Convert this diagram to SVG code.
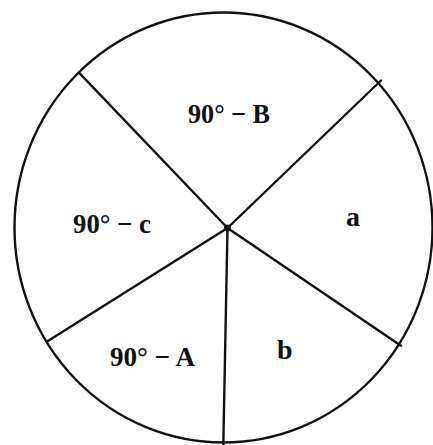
<svg xmlns="http://www.w3.org/2000/svg" width="433" height="445" viewBox="0 0 433 445">
<style>
.ln{stroke:#111;stroke-width:2.4;fill:none;stroke-linecap:round}
.lbl{font-family:"Liberation Serif","Times New Roman",serif;font-weight:bold;font-size:28px;fill:#111}
</style>
<rect width="433" height="445" fill="#fff"/>
<g id="circle"><ellipse class="ln" cx="223.5" cy="227.5" rx="209" ry="215" stroke-width="2.2"/></g>
<g id="connectors">
<line class="ln" x1="227.5" y1="228" x2="79" y2="72.7"/>
<line class="ln" x1="227.5" y1="228" x2="381" y2="80.5"/>
<line class="ln" x1="227.5" y1="228" x2="401" y2="345.7"/>
<line class="ln" x1="227.5" y1="228" x2="223.3" y2="445"/>
<line class="ln" x1="227.5" y1="228" x2="46.7" y2="341.7"/>
<circle cx="227.5" cy="228" r="3.5" fill="#111"/>
</g>
<g id="label-B"><text class="lbl" x="188" y="123" textLength="82" lengthAdjust="spacingAndGlyphs">90° − B</text></g>
<g id="label-c"><text class="lbl" x="73" y="233" textLength="78" lengthAdjust="spacingAndGlyphs">90° − c</text></g>
<g id="label-a"><text class="lbl" x="346" y="226">a</text></g>
<g id="label-A"><text class="lbl" x="110" y="366" textLength="85" lengthAdjust="spacingAndGlyphs">90° − A</text></g>
<g id="label-b"><text class="lbl" x="277" y="359">b</text></g>
</svg>
